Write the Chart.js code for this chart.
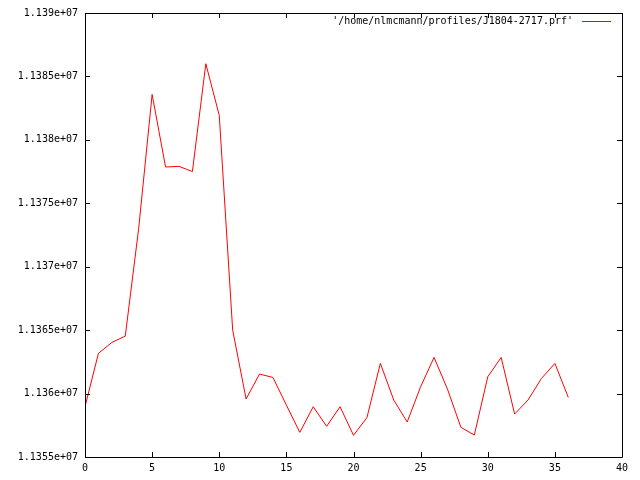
<!DOCTYPE html>
<html>
<head>
  <meta charset="UTF-8">
  <title>J1804-2717 profile</title>
  <script src="https://cdn.jsdelivr.net/npm/chart.js"></script>
  <style>
    body { margin: 0; background: #fff; }
    canvas { display: block; }
  </style>
</head>
<body>
  <canvas id="prf" width="640" height="480"></canvas>

  <script>
    const seriesLabel = "'/home/nlmcmann/profiles/J1804-2717.prf'";
    const bins = [0,1,2,3,4,5,6,7,8,9,10,11,12,13,14,15,16,17,18,19,20,21,22,23,24,25,26,27,28,29,30,31,32,33,34,35,36];
    const counts = [
      11358960, 11363170, 11364030, 11364530, 11373030, 11383580, 11377860, 11377910,
      11377500, 11386000, 11381930, 11365000, 11359570, 11361540, 11361270, 11359090,
      11356940, 11358960, 11357420, 11358960, 11356710, 11358100, 11362380, 11359490,
      11357760, 11360540, 11362850, 11360350, 11357340, 11356730, 11361320, 11362850,
      11358390, 11359490, 11361190, 11362380, 11359700
    ];
    const xTicks = { min: 0, max: 40, step: 5 };
    const yTicks = { min: 11355000, max: 11390000, step: 5000 };

    const monoFont = { family: 'DejaVu Sans Mono', size: 10 };

    function gnuLabel(v) {
      return parseFloat((v / 1e7).toPrecision(6)).toString() + 'e+07';
    }

    // gnuplot style frame, inward ticks on all sides, key in upper right
    const frame = {
      id: 'frame',
      afterDraw(chart) {
        const c = chart.ctx;
        const a = chart.chartArea;
        const xs = chart.scales.x, ys = chart.scales.y;
        c.save();
        c.strokeStyle = '#000';
        c.lineWidth = 1;
        c.beginPath();
        c.rect(Math.round(a.left) + 0.5, Math.round(a.top) + 0.5,
               Math.round(a.right - a.left), Math.round(a.bottom - a.top));
        const t = 5;
        xs.ticks.forEach(tk => {
          const px = Math.round(xs.getPixelForValue(tk.value)) + 0.5;
          c.moveTo(px, a.bottom); c.lineTo(px, a.bottom - t);
          c.moveTo(px, a.top); c.lineTo(px, a.top + t);
        });
        ys.ticks.forEach(tk => {
          const py = Math.round(ys.getPixelForValue(tk.value)) + 0.5;
          c.moveTo(a.left, py); c.lineTo(a.left + t, py);
          c.moveTo(a.right, py); c.lineTo(a.right - t, py);
        });
        c.stroke();

        c.font = '10px "DejaVu Sans Mono"';
        c.fillStyle = '#000';
        c.textAlign = 'right';
        c.textBaseline = 'middle';
        c.fillText(seriesLabel, 573, 21);
        // key sample line
        c.fillStyle = '#ff0000';
        c.fillRect(582, 21, 29, 1);
        c.restore();
      }
    };

    new Chart(document.getElementById('prf'), {
      type: 'line',
      data: {
        labels: bins,
        datasets: [{
          label: seriesLabel,
          data: counts,
          borderColor: 'red',
          borderWidth: 1,
          pointRadius: 0,
          tension: 0,
          fill: false
        }]
      },
      options: {
        responsive: false,
        animation: false,
        layout: { padding: { top: 12, right: 18, left: 0, bottom: 0 } },
        plugins: { legend: { display: false }, tooltip: { enabled: false } },
        scales: {
          x: {
            type: 'linear',
            min: xTicks.min, max: xTicks.max,
            grid: { display: false, drawTicks: false },
            border: { display: false },
            ticks: { stepSize: xTicks.step, color: '#000', font: monoFont, padding: 5, maxRotation: 0 },
            afterFit(s) { s.height = 23; }
          },
          y: {
            min: yTicks.min, max: yTicks.max,
            grid: { display: false, drawTicks: false },
            border: { display: false },
            ticks: { stepSize: yTicks.step, color: '#000', font: monoFont, padding: 7, callback: gnuLabel },
            afterFit(s) { s.width = 85; }
          }
        }
      },
      plugins: [frame]
    });
  </script>
</body>
</html>
